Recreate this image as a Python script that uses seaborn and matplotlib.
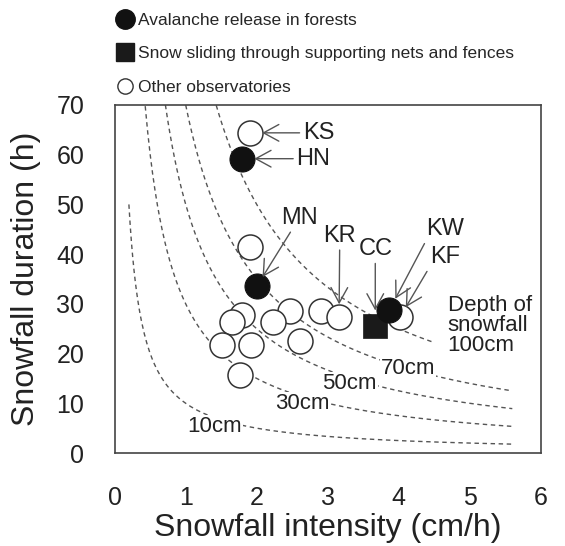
import numpy as np
import pandas as pd
import matplotlib
matplotlib.use("Agg")
import matplotlib.pyplot as plt
import seaborn as sns
from matplotlib.lines import Line2D

# ---------------- data ----------------
open_x = [1.90, 1.90, 1.79, 1.65, 2.47, 2.23, 2.91, 3.16, 1.51, 1.92, 2.61, 1.77, 4.02]
open_y = [64.4, 41.4, 27.8, 26.4, 28.6, 26.4, 28.6, 27.4, 21.8, 21.8, 22.6, 15.7, 27.4]
forest_x = [1.79, 2.00, 3.87]
forest_y = [59.2, 33.5, 28.8]
net_x = [3.67]
net_y = [25.6]

site_names = ["KS", "HN", "MN", "KR", "CC", "KW", "KF"]
site_x = [1.90, 1.79, 2.00, 3.16, 3.67, 3.87, 4.02]
site_y = [64.4, 59.2, 33.5, 27.4, 25.6, 28.8, 27.4]
name_x = [2.65, 2.56, 2.60, 3.17, 3.67, 4.65, 4.65]
name_y = [64.4, 59.2, 47.3, 43.7, 41.0, 45.0, 39.4]

depths = [10, 30, 50, 70, 100]          # cm, depth = intensity x duration
curve_start = [0.20, 0.43, 0.714, 1.0, 1.43]
curve_end = [5.6, 5.6, 5.6, 5.6, 4.5]
depth_labels = ["10cm", "30cm", "50cm", "70cm"]
depth_label_x = [1.40, 2.65, 3.31, 4.13]
depth_label_y = [5.4, 10.0, 13.9, 16.9]

x_ticks = [0, 1, 2, 3, 4, 5, 6]
y_ticks = [0, 10, 20, 30, 40, 50, 60, 70]

legend_labels = ["Avalanche release in forests",
                 "Snow sliding through supporting nets and fences",
                 "Other observatories"]

# ---------------- style ----------------
sns.set_style("white")
plt.rcParams["font.family"] = ["Liberation Sans", "DejaVu Sans"]
ink = "#222222"
gray = "#555555"

fig = plt.figure(figsize=(5.65, 5.46), dpi=100)
ax = fig.add_axes([0.203, 0.1703, 0.754, 0.6374])

# iso-depth curves
for D, x0, x1 in zip(depths, curve_start, curve_end):
    xs = np.linspace(x0, x1, 300)
    cdf = pd.DataFrame({"x": xs, "y": D / xs})
    sns.lineplot(data=cdf, x="x", y="y", ax=ax, color=gray, lw=1.0,
                 linestyle=(0, (3.2, 2.6)), sort=False, zorder=1)

for t, x, y in zip(depth_labels, depth_label_x, depth_label_y):
    ax.text(x, y, t, ha="center", va="center", fontsize=16, color=ink, zorder=2,
            bbox=dict(boxstyle="square,pad=0.05", fc="white", ec="none"))

ax.text(4.69, 25.7, "Depth of\nsnowfall\n100cm", ha="left", va="center",
        fontsize=16, color=ink, linespacing=0.95, zorder=2)

# markers
odf = pd.DataFrame({"x": open_x, "y": open_y})
fdf = pd.DataFrame({"x": forest_x, "y": forest_y})
ndf = pd.DataFrame({"x": net_x, "y": net_y})
sns.scatterplot(data=odf, x="x", y="y", ax=ax, s=324, marker="o",
                facecolor="white", edgecolor="#333333", linewidth=1.1, zorder=3)
sns.scatterplot(data=ndf, x="x", y="y", ax=ax, s=300, marker="s",
                color="#1a1a1a", edgecolor="#1a1a1a", linewidth=0.5, zorder=4)
sns.scatterplot(data=fdf, x="x", y="y", ax=ax, s=324, marker="o",
                color="#111111", edgecolor="#111111", linewidth=0.8, zorder=5)

# site annotations
ha_map = {"KS": "left", "HN": "left"}
relpos_map = {"KW": (0.1, 0.3), "KF": (0.1, 0.3)}
shrink_map = {"KS": 9, "HN": 9, "MN": 8, "KR": 9, "CC": 11, "KW": 9, "KF": 8}
for n, px, py, tx, ty in zip(site_names, site_x, site_y, name_x, name_y):
    ax.annotate(n, xy=(px, py), xytext=(tx, ty), textcoords="data",
                ha=ha_map.get(n, "center"), va="center", fontsize=17, color=ink,
                zorder=6,
                arrowprops=dict(arrowstyle="->,head_length=0.55,head_width=0.3",
                                color=gray, lw=1.0, mutation_scale=20,
                                shrinkA=0, shrinkB=shrink_map[n],
                                relpos=relpos_map.get(n, (0.5, 0.5))))

# axes
ax.set_xlim(0, 6)
ax.set_ylim(0, 70)
ax.set_xticks(x_ticks)
ax.set_yticks(y_ticks)
ax.set_xticklabels([str(v) for v in x_ticks])
ax.set_yticklabels([str(v) for v in y_ticks])
ax.tick_params(direction="in", length=7, width=1.1, color="#444444",
               labelsize=18, labelcolor=ink)
ax.tick_params(axis="x", pad=24)
ax.tick_params(axis="y", pad=22)
for sp in ax.spines.values():
    sp.set_visible(True)
    sp.set_color("#444444")
    sp.set_linewidth(1.2)
ax.set_xlabel("Snowfall intensity (cm/h)", fontsize=23, color=ink, labelpad=2)
ax.set_ylabel("Snowfall duration (h)", fontsize=23, color=ink, labelpad=11)

# legend
handles = [
    Line2D([], [], marker="o", ls="none", ms=14, mfc="#111111", mec="#111111"),
    Line2D([], [], marker="s", ls="none", ms=13, mfc="#1a1a1a", mec="#1a1a1a"),
    Line2D([], [], marker="o", ls="none", ms=11, mfc="white", mec="#333333", mew=1.0),
]
fig.legend(handles, legend_labels, loc="upper left", bbox_to_anchor=(0.199, 0.985),
           frameon=False, fontsize=12.5, handlelength=1.0, handletextpad=0.25,
           labelspacing=1.07, borderpad=0.25, borderaxespad=0)

fig.savefig("out.png", dpi=100)
